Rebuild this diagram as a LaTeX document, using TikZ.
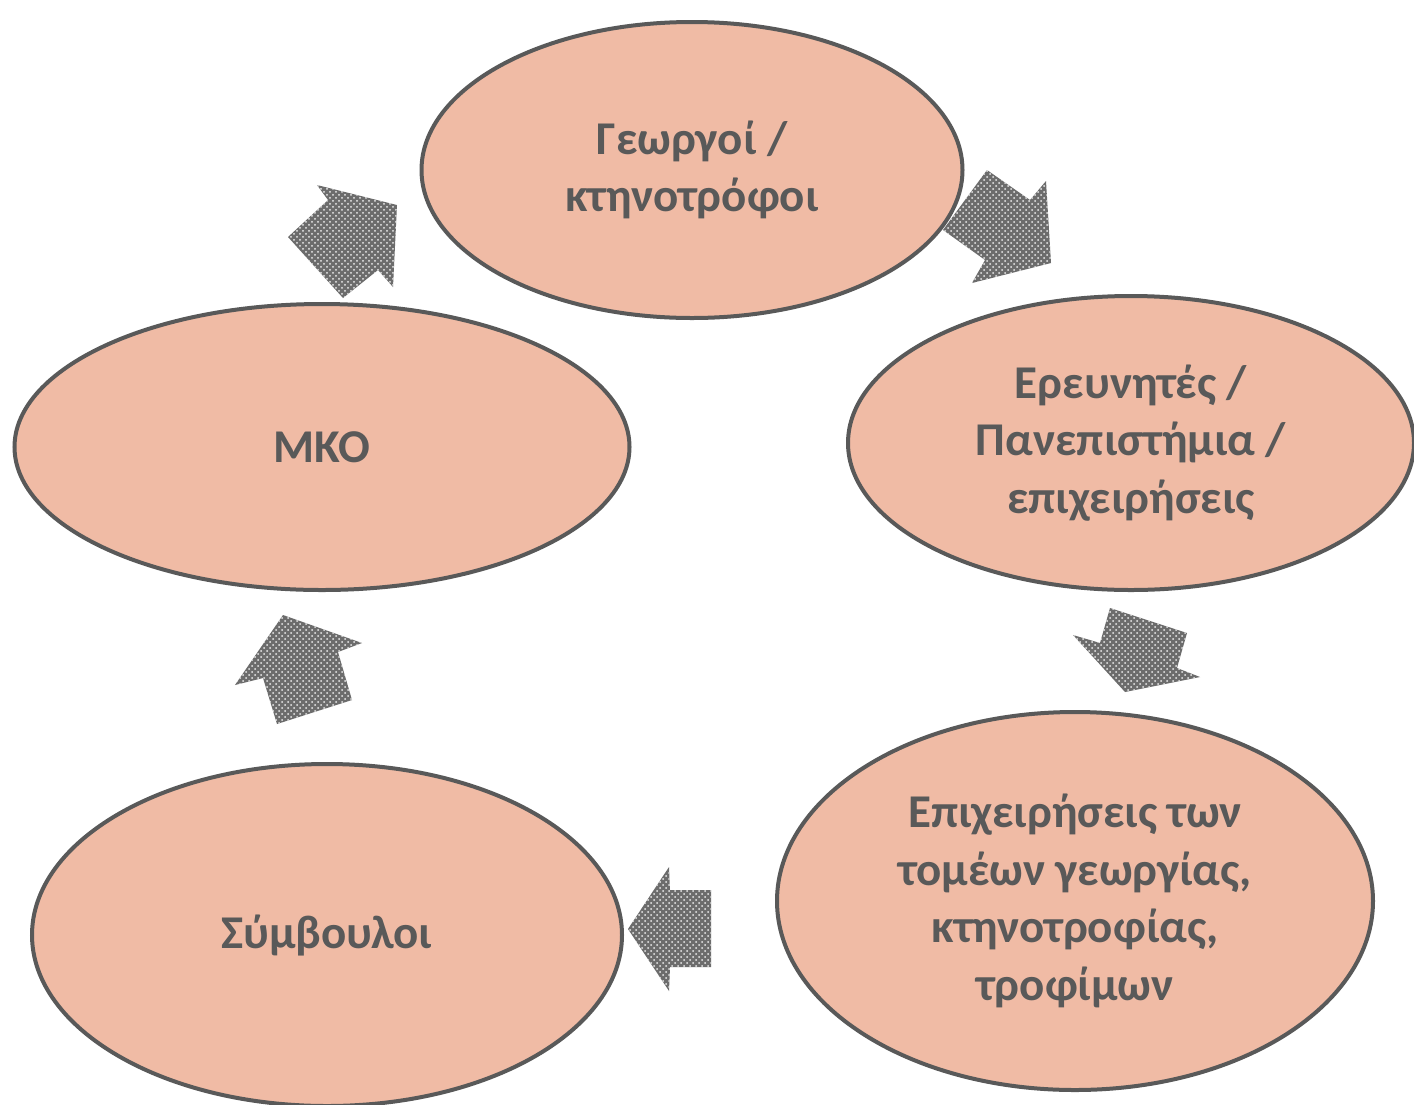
\documentclass[tikz,border=0pt]{standalone}
\usepackage{fontspec}
\setmainfont{Carlito}
\usetikzlibrary{shapes.geometric,patterns}
\definecolor{salmon}{HTML}{F0BBA5}
\definecolor{edgegrey}{HTML}{595959}

\begin{document}
\begin{tikzpicture}[x=0.5pt,y=-0.5pt,
        actor/.style={ellipse, draw=edgegrey, line width=2pt, fill=salmon,
          inner sep=0pt, align=center, text=edgegrey,
          font=\bfseries\fontsize{23.5}{28.7}\selectfont},
        flow/.style={preaction={fill=gray!85!black}, pattern=crosshatch dots,
          pattern color=white!85!gray}]
        \useasboundingbox[fill=white] (0,0) rectangle (1414,1104);
        % the five groups
        \node[actor, minimum width=541pt/2, minimum height=296pt/2] (farmers) at (692,170)
          {Γεωργοί /\\κτηνοτρόφοι};
        \node[actor, minimum width=566pt/2, minimum height=294pt/2] (research) at (1131,443)
          {Ερευνητές /\\Πανεπιστήμια /\\επιχειρήσεις};
        \node[actor, minimum width=596pt/2, minimum height=378pt/2] (firms) at (1075,901)
          {Επιχειρήσεις των\\τομέων γεωργίας,\\κτηνοτροφίας,\\τροφίμων};
        \node[actor, minimum width=590pt/2, minimum height=342pt/2] (advisors) at (327,935)
          {Σύμβουλοι};
        \node[actor, minimum width=615pt/2, minimum height=286pt/2] (ngo) at (322,447)
          {ΜΚΟ};
        % block arrows between them
        \fill[flow] (987,170) -- (1030,200) -- (1046,181) -- (1051,263) -- (972,283)
          -- (985,260) -- (943,230) -- cycle;
        \fill[flow] (1110,608) -- (1187,633) -- (1177,668) -- (1200,677) -- (1125,692)
          -- (1073,635) -- (1100,643) -- cycle;
        \fill[flow] (711,890) -- (711,967) -- (670,967) -- (669,991) -- (628,929)
          -- (669,867) -- (670,890) -- cycle;
        \fill[flow] (283,615) -- (362,643) -- (338,652) -- (352,700) -- (277,724)
          -- (263,678) -- (235,685) -- cycle;
        \fill[flow] (317,185) -- (397,205) -- (393,287) -- (378,270) -- (343,298)
          -- (288,237) -- (328,200) -- cycle;
\end{tikzpicture}
\end{document}
